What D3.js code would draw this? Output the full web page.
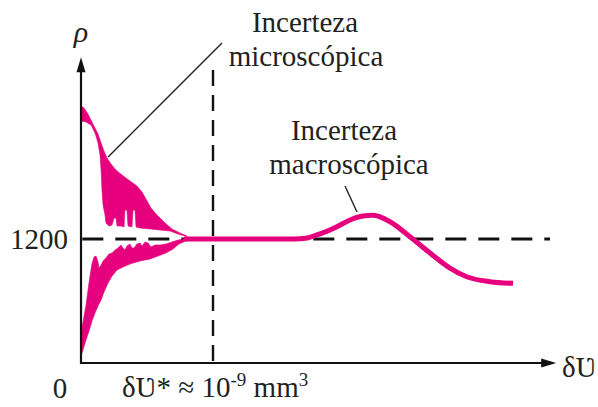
<!DOCTYPE html>
<html><head><meta charset="utf-8">
<script src="https://cdn.jsdelivr.net/npm/d3@7"></script>
<style>html,body{margin:0;padding:0;background:#fff;overflow:hidden}svg{display:block}text{font-family:"Liberation Serif","Times New Roman",serif;fill:#231f20}</style>
</head><body><svg id="c" width="598" height="407"></svg>
<script>
// ---- data (x in units of δV*, ρ in kg/m³) ----
const refDensity = 1200;
const criticalVolume = 1;
const xAxisMax = 3.6;
const yAxisMax = 2960;
const yTickLabels = ["1200"];
const xOriginLabel = "0";

// microscopic-uncertainty band: upper lobe
const upperTopU   = [0,.023,.053,.083,.106,.129,.152,.174,.197,.227,.265,.311,.371,.424,.462,.492,.530,.576,.629,.689,.75,.803];
const upperTopRho = [2487,2468,2410,2332,2274,2216,2129,2052,1984,1926,1868,1819,1761,1713,1655,1587,1500,1432,1365,1297,1258,1229];
const upperBotU   = [0,.038,.076,.106,.129,.144,.152,.159,.167,.182,.189,.212,.235,.250,.265,.273,.303,.326,.333,.348,.356,.386,.394,.409,.417,.447,.523,.598,.674,.735,.803];
const upperBotRho = [2342,2332,2303,2226,2129,2013,1868,1674,1529,1432,1355,1326,1335,1403,1403,1326,1326,1316,1480,1480,1326,1316,1480,1480,1316,1306,1297,1287,1277,1248,1224];
// lower lobe
const lowerTopU   = [0,.015,.038,.053,.068,.083,.098,.114,.129,.136,.152,.167,.189,.212,.235,.258,.280,.303,.318,.333,.348,.371,.386,.402,.424,.447,.462,.485,.508,.530,.561,.598,.644,.689,.735,.803];
const lowerTopRho = [300,397,561,706,842,958,1026,1035,977,919,948,987,1016,1055,1065,1094,1113,1142,1113,1094,1132,1152,1113,1113,1152,1161,1132,1171,1161,1123,1142,1142,1152,1171,1190,1205];
const lowerBotU   = [0,.015,.038,.061,.083,.106,.129,.152,.174,.205,.235,.273,.318,.371,.447,.523,.583,.644,.697,.742,.803];
const lowerBotRho = [68,126,223,310,406,484,552,610,687,774,842,900,929,958,987,1006,1035,1065,1103,1152,1185];
// mean density curve
const curveU   = [.78,1.0,1.3,1.62,1.70,1.788,1.939,2.038,2.136,2.212,2.341,2.492,2.644,2.795,2.922,3.098,3.273];
const curveRho = [1200,1200,1200,1200,1207,1239,1319,1384,1423,1429,1367,1222,1065,919,835,787,771];

// annotation anchors (data units)
const microLeader = [[1.068,3097],[0.205,1994]];
const macroLeader = [[2.0,1713],[2.091,1461]];
const microText = ["Incerteza","microscópica"];
const macroText = ["Incerteza","macroscópica"];

// ---- drawing ----
const MAG = "#e6007e";
const svg = d3.select("#c");
const x = d3.scaleLinear().domain([0, criticalVolume]).range([81, 213]);
const y = d3.scaleLinear().domain([0, refDensity]).range([363, 239]);
const zip = (a,b) => a.map((v,i)=>[v,b[i]]);
const line = d3.line().x(d=>x(d[0])).y(d=>y(d[1]));

// dashed reference lines
svg.append("line").attr("x1",x(0.01)).attr("x2",x(3.553)).attr("y1",y(refDensity)).attr("y2",y(refDensity))
  .attr("stroke","#111").attr("stroke-width",3).attr("stroke-dasharray","21,12");
svg.append("line").attr("x1",x(criticalVolume)).attr("x2",x(criticalVolume)).attr("y1",y(2835)).attr("y2",y(0))
  .attr("stroke","#111").attr("stroke-width",2.4).attr("stroke-dasharray","16,9");

// band lobes
const upper = zip(upperTopU,upperTopRho).concat(zip(upperBotU,upperBotRho).reverse());
const lower = zip(lowerTopU,lowerTopRho).concat(zip(lowerBotU,lowerBotRho).reverse());
[upper,lower].forEach(p=>svg.append("path").attr("d",line(p)+"Z").attr("fill",MAG).attr("stroke",MAG).attr("stroke-width",0.6));

// main curve
const curveLine = d3.line().x(d=>x(d[0])).y(d=>y(d[1])).curve(d3.curveMonotoneX);
svg.append("path").attr("d",curveLine(zip(curveU,curveRho)))
  .attr("fill","none").attr("stroke",MAG).attr("stroke-width",5).attr("stroke-linecap","butt");

// axes
svg.append("line").attr("x1",x(0)).attr("x2",x(0)).attr("y1",y(0)+1).attr("y2",y(yAxisMax)+10).attr("stroke","#111").attr("stroke-width",2.2);
svg.append("line").attr("x1",x(0)-1).attr("x2",x(xAxisMax)-10).attr("y1",y(0)).attr("y2",y(0)).attr("stroke","#111").attr("stroke-width",2.2);
const yt = y(yAxisMax), xt = x(xAxisMax);
svg.append("path").attr("d",`M${x(0)},${yt} L${x(0)-4.5},${yt+15} L${x(0)+4.5},${yt+15}Z`).attr("fill","#111");
svg.append("path").attr("d",`M${xt},${y(0)} L${xt-15},${y(0)-4.5} L${xt-15},${y(0)+4.5}Z`).attr("fill","#111");

// leaders
[microLeader,macroLeader].forEach(l=>svg.append("line").attr("x1",x(l[0][0])).attr("y1",y(l[0][1])).attr("x2",x(l[1][0])).attr("y2",y(l[1][1])).attr("stroke","#222").attr("stroke-width",1.4));

// texts
const FS = 29;
svg.append("text").attr("x",x(0)).attr("y",yt-15).attr("text-anchor","middle").attr("font-style","italic").attr("font-size",30).text("ρ");
svg.append("text").attr("x",x(0)-13).attr("y",y(refDensity)+10).attr("text-anchor","end").attr("font-size",FS).text(yTickLabels[0]);
svg.append("text").attr("x",x(0)-21).attr("y",398).attr("text-anchor","middle").attr("font-size",FS).text(xOriginLabel);
const xl = svg.append("text").attr("x",122).attr("y",397).attr("font-size",FS);
xl.append("tspan").text("δƲ* ≈ 10");
xl.append("tspan").attr("font-size",19).attr("dy",-11).text("-9");
xl.append("tspan").attr("dy",11).text(" mm");
xl.append("tspan").attr("font-size",19).attr("dy",-11).text("3");
svg.append("text").attr("x",562).attr("y",377).attr("font-size",FS).text("δƲ");

const mt = svg.append("text").attr("font-size",FS).attr("text-anchor","middle");
mt.append("tspan").attr("x",305).attr("y",32).text(microText[0]);
mt.append("tspan").attr("x",306).attr("y",66).text(microText[1]);
const Mt = svg.append("text").attr("font-size",FS).attr("text-anchor","middle");
Mt.append("tspan").attr("x",344).attr("y",140).text(macroText[0]);
Mt.append("tspan").attr("x",349).attr("y",174).text(macroText[1]);
</script></body></html>
